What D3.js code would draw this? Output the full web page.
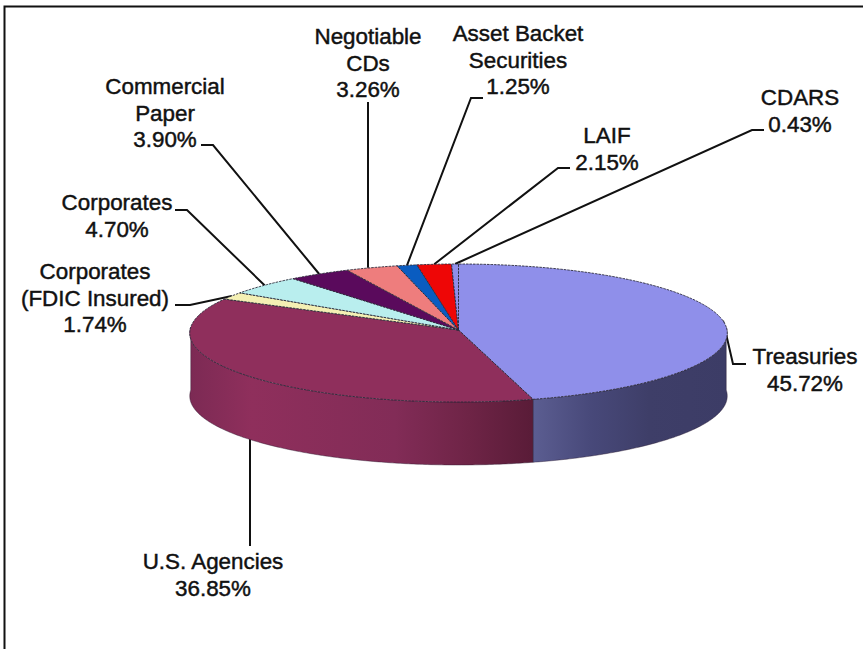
<!DOCTYPE html>
<html>
<head>
<meta charset="utf-8">
<script src="https://cdn.jsdelivr.net/npm/d3@7"></script>
<style>
html,body{margin:0;padding:0;background:#fff;overflow:hidden}
svg{display:block}
text{font-family:"Liberation Sans",Arial,sans-serif;font-size:22.4px;fill:#111;text-anchor:middle}
</style>
</head>
<body>
<svg id="chart" width="863" height="649"></svg>
<script>
// Portfolio allocation, clockwise from twelve o'clock
const categories = ["Treasuries","U.S. Agencies","Corporates (FDIC Insured)","Corporates","Commercial Paper","Negotiable CDs","Asset Backet Securities","LAIF","CDARS"];
const shares = [45.72,36.85,1.74,4.70,3.90,3.26,1.25,2.15,0.43];
const labelLines = [["Treasuries"],["U.S. Agencies"],["Corporates","(FDIC Insured)"],["Corporates"],["Commercial","Paper"],["Negotiable","CDs"],["Asset Backet","Securities"],["LAIF"],["CDARS"]];
const sliceColors = ["#8f8fea","#8f2f5c","#f4f0b4","#b9eeee","#5a0a5c","#ee7d7d","#0a5cc0","#ee0606","#8f8fea"];

// Callout placement: label centre, first baseline, and leader knots out from the pie
const labelX = [805,213,95,117,165,368,518,607,800];
const labelY = [364,569,279,210,94,44,41,143,105];
const leaderKnots = [
  [[733,364],[746,364]],
  [[250,546]],
  [[190,305],[175,305]],
  [[187,210],[175,210]],
  [[213,145],[201,145]],
  [[368,102]],
  [[471,98],[483,98]],
  [[558,168],[570,168]],
  [[752,130],[764,130]]
];
// These two callouts drop straight down or up from their label
const plumbLeaders = [1,5];

// Tilted disc: a circle seen under a slight perspective
const cx = 458.5, apexY = 330, rx = 268.5, ry = 68.87, k = -0.0435, depth = 63;
const project = (theta, lift = 0) => {
  const u = Math.sin(theta), v = -Math.cos(theta), w = 1 + k * v;
  return [cx + rx * u / w, apexY + ry * v / w + lift];
};
const TAU = 2 * Math.PI;
const pie = d3.pie().sort(null).startAngle(0).endAngle(TAU);
const arcs = pie(shares);
const arcPoints = (a0, a1, lift = 0) => {
  const n = Math.max(2, Math.ceil((a1 - a0) / 0.01));
  return d3.range(n + 1).map(i => project(a0 + (a1 - a0) * i / n, lift));
};
const line = d3.line();
const svg = d3.select("#chart");

// Frame, open on the right and bottom
svg.append("path").attr("d", line([[4.5,649],[4.5,6.5],[863,6.5]]))
  .attr("fill","none").attr("stroke","#111").attr("stroke-width",2);

// Horizontal shading for the rim walls
const defs = svg.append("defs");
const addGradient = (id, x1, x2, stops) => {
  const g = defs.append("linearGradient").attr("id", id)
    .attr("gradientUnits","userSpaceOnUse").attr("x1",x1).attr("x2",x2).attr("y1",0).attr("y2",0);
  stops.forEach(([o,c]) => g.append("stop").attr("offset",o).attr("stop-color",c));
};
addGradient("wallMaroon",190,531,[[0,"#7c2a54"],[0.18,"#8f2f5c"],[0.6,"#822c57"],[0.82,"#6e2446"],[1,"#5a1c38"]]);
addGradient("wallBlue",531,728,[[0,"#5c5e92"],[0.3,"#48497a"],[0.6,"#3e3e68"],[1,"#3c3c66"]]);

// Walls are only visible between the disc's left and right extremes
const rightExtreme = Math.acos(-k), leftExtreme = TAU - rightExtreme;
const wallEdge = arcs[0].endAngle;

// Leader lines run underneath the disc, so they appear to stop at its edge
svg.append("g").selectAll("path").data(arcs).join("path")
  .attr("d", (d,i) => {
    const mid = (d.startAngle + d.endAngle) / 2;
    const onWall = mid > rightExtreme && mid < leftExtreme;
    const start = project(mid, onWall ? depth : 0);
    if (plumbLeaders.includes(i)) start[0] = leaderKnots[i][0][0];
    return line([start].concat(leaderKnots[i]));
  })
  .attr("fill","none").attr("stroke","#111").attr("stroke-width",2);

const wall = (a0, a1, fill) => {
  const pts = arcPoints(a0, a1).concat(arcPoints(a0, a1, depth).reverse());
  svg.append("path").attr("d", line(pts) + "Z").attr("fill", fill)
    .attr("stroke","#2c1a30").attr("stroke-width",0.6).attr("stroke-opacity",0.7);
};
wall(rightExtreme, wallEdge, "url(#wallBlue)");
wall(wallEdge, leftExtreme, "url(#wallMaroon)");

// Top face slices
svg.append("g").selectAll("path").data(arcs).join("path")
  .attr("d", d => line([[cx, apexY]].concat(arcPoints(d.startAngle, d.endAngle))) + "Z")
  .attr("fill", (d,i) => sliceColors[i])
  .attr("stroke","#2a2a3a").attr("stroke-width",0.9)
  .attr("stroke-dasharray","2.5 1").attr("stroke-linejoin","round");

// Labels: category lines followed by the share
const lineGap = 26.5;
const labels = svg.append("g").selectAll("text").data(arcs).join("text")
  .attr("x",(d,i) => labelX[i]).attr("y",(d,i) => labelY[i])
  .attr("stroke","#111").attr("stroke-width",0.45);
labels.selectAll("tspan")
  .data((d,i) => labelLines[i].concat(d3.format(".2f")(shares[i]) + "%"))
  .join("tspan")
  .attr("x", function(){ return this.parentNode.getAttribute("x"); })
  .attr("dy",(d,j) => j ? lineGap : 0)
  .text(d => d);
</script>
</body>
</html>
